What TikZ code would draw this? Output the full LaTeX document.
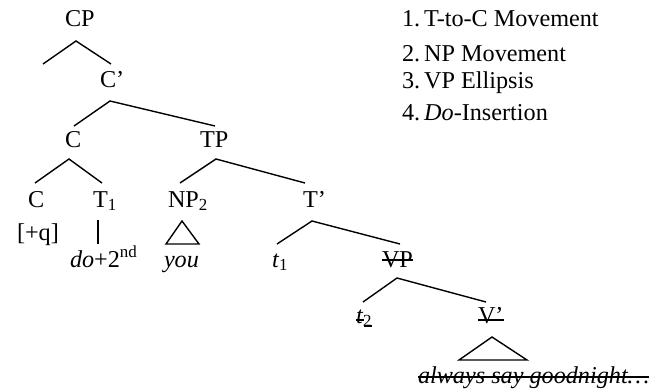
\documentclass[tikz,border=0pt]{standalone}
\usepackage{fontspec}
\setmainfont{Liberation Serif}
\begin{document}
\begin{tikzpicture}[x=1pt,y=-1pt,
  lbl/.style={inner sep=0pt,outer sep=0pt,anchor=base west,font=\fontsize{24.2}{29}\selectfont},
  branch/.style={line width=1.4pt,line join=miter},
  strike/.style={line width=1.1pt}]
\useasboundingbox (0,0) rectangle (653,391);
% tree labels
\node[lbl] (CP) at (65,26) {CP};
\node[lbl] (Cbar) at (100,87) {C’};
\node[lbl] (C) at (65,147) {C};
\node[lbl] (TP) at (200,147) {TP};
\node[lbl] (C2) at (28,207) {C};
\node[lbl] (T1) at (93,207) {T\textsubscript{1}};
\node[lbl] (NP) at (168,207) {NP\textsubscript{2}};
\node[lbl] (Tbar) at (303,207) {T’};
\node[lbl] (q) at (17,240) {[+q]};
\node[lbl] (do) at (70,267) {\textit{do}+2\textsuperscript{nd}};
\node[lbl] (you) at (164,267) {\textit{you}};
\node[lbl] (t1) at (272,267) {\textit{t}\textsubscript{1}};
\node[lbl] (VP) at (382,267) {VP};
\node[lbl] (t2) at (356,323) {\textit{t}\textsubscript{2}};
\node[lbl] (Vbar) at (478,323) {V’};
\node[lbl] (adv) at (418,383) {\textit{always say goodnight…}};
% legend
\node[lbl] (l1) at (402,26) {1.\,T-to-C Movement};
\node[lbl] (l2) at (402,61) {2.\,NP Movement};
\node[lbl] (l3) at (402,88) {3.\,VP Ellipsis};
\node[lbl] (l4) at (402,120) {4.\,\textit{Do}-Insertion};
% branch points
\coordinate (CPa) at (76,41);  \coordinate (CPl) at (43,64);  \coordinate (CPr) at (111,64);
\coordinate (Cba) at (110,101); \coordinate (Cbl) at (74,126); \coordinate (Cbr) at (215,126);
\coordinate (Ca) at (69,159);  \coordinate (Cl) at (35,183);  \coordinate (Cr) at (102,183);
\coordinate (TPa) at (216,159); \coordinate (TPl) at (180,183); \coordinate (TPr) at (305,183);
\coordinate (T1a) at (98,220);  \coordinate (T1b) at (98,244);
\coordinate (NPa) at (182,221); \coordinate (NPl) at (166,244); \coordinate (NPr) at (199,244);
\coordinate (Tba) at (312,221); \coordinate (Tbl) at (277,244); \coordinate (Tbr) at (400,244);
\coordinate (VPa) at (397,278); \coordinate (VPl) at (363,302); \coordinate (VPr) at (486,302);
\coordinate (Vba) at (492,337); \coordinate (Vbl) at (459,360); \coordinate (Vbr) at (527,360);
% branches
\draw[branch] (CPl) -- (CPa) -- (CPr);
\draw[branch] (Cbl) -- (Cba) -- (Cbr);
\draw[branch] (Cl) -- (Ca) -- (Cr);
\draw[branch] (TPl) -- (TPa) -- (TPr);
\draw[branch] (T1a) -- (T1b);
\draw[branch] (NPa) -- (NPl) -- (NPr) -- cycle;
\draw[branch] (Tbl) -- (Tba) -- (Tbr);
\draw[branch] (VPl) -- (VPa) -- (VPr);
\draw[branch] (Vba) -- (Vbl) -- (Vbr) -- cycle;
% strike-throughs
\draw[strike] ([yshift=7pt]VP.base west) -- ([yshift=7pt]VP.base east);
\draw[strike] ([yshift=3pt]Vbar.base west) -- ([yshift=3pt]Vbar.base east);
\draw[strike] ([yshift=3pt]t2.base west) -- ([xshift=-8pt,yshift=3pt]t2.base east);
\draw[strike] ([xshift=-8pt,yshift=-3pt]t2.base east) -- ([yshift=-3pt]t2.base east);
\draw[strike] ([yshift=6pt]adv.base west) -- ([yshift=6pt]adv.base east);
\end{tikzpicture}
\end{document}
